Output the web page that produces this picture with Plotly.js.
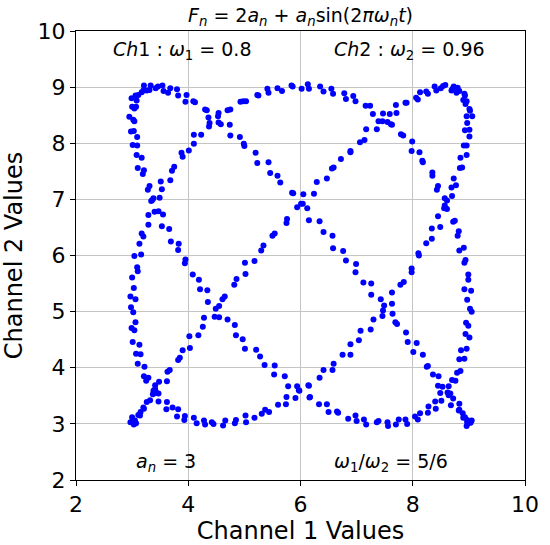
<!DOCTYPE html>
<html>
<head>
<meta charset="utf-8">
<script src="https://cdn.plot.ly/plotly-3.0.1.min.js"></script>
<style>
  html, body { margin: 0; padding: 0; background: #ffffff; }
  #chart { width: 550px; height: 545px; }
</style>
</head>
<body>
<div id="chart"></div>
<script>
// Channel 1 (x) values
const ch1Values = [
9.03,8.96,9.05,8.97,8.99,8.90,8.97,8.89,8.93,8.82,
8.83,8.83,8.68,8.72,8.62,8.67,8.53,8.45,8.46,8.36,
8.25,8.27,8.18,8.01,8.07,7.91,7.88,7.72,7.69,7.64,
7.47,7.43,7.26,7.26,7.12,6.98,6.99,6.81,6.76,6.58,
6.57,6.41,6.34,6.15,6.12,6.04,5.87,5.85,5.64,5.59,
5.46,5.43,5.23,5.20,5.00,4.99,4.92,4.75,4.74,4.58,
4.53,4.36,4.33,4.30,4.12,4.09,3.95,3.97,3.82,3.80,
3.64,3.68,3.56,3.54,3.42,3.46,3.33,3.31,3.21,3.26,
3.20,3.11,3.17,3.06,3.08,2.99,3.07,3.00,3.04,2.95,3.02,
3.04,2.98,3.03,3.09,3.01,3.09,3.08,3.17,3.10,3.21,
3.19,3.31,3.28,3.38,3.34,3.47,3.55,3.53,3.66,3.69,
3.83,3.82,3.95,3.94,4.08,4.19,4.21,4.34,4.35,4.55,
4.55,4.70,4.83,4.85,4.97,5.01,5.21,5.28,5.36,5.54,
5.53,5.72,5.78,5.94,5.97,6.16,6.17,6.33,6.47,6.50,
6.65,6.67,6.85,6.98,7.00,7.13,7.17,7.36,7.39,7.56,
7.55,7.70,7.75,7.90,7.87,8.04,8.09,8.13,8.27,8.28,
8.41,8.40,8.51,8.49,8.64,8.64,8.76,8.70,8.79,8.85,
8.83,8.92,8.86,8.96,9.01,8.94,8.99,8.95,9.05,9.02,
8.97,9.04,8.92,8.99,8.99,8.92,8.94,8.83,8.91,8.80,
8.82,8.72,8.75,8.61,8.61,8.57,8.43,8.45,8.35,8.35,
8.18,8.17,8.12,7.98,7.99,7.83,7.79,7.63,7.61,7.46,
7.47,7.29,7.24,7.16,6.98,6.94,6.81,6.78,6.58,6.55,
6.41,6.35,6.15,6.13,6.02,5.86,5.84,5.67,5.59,5.43,
5.41,5.25,5.23,5.03,4.98,4.93,4.75,4.70,4.54,4.54,
4.38,4.37,4.23,4.10,4.10,4.01,3.88,3.90,3.75,3.71,
3.68,3.51,3.53,3.49,3.36,3.40,3.29,3.29,3.17,3.20,
3.13,3.16,3.04,3.09,3.10,3.00,3.03,2.97,3.06,2.98,
3.02,3.06,2.99,3.04,3.01,3.13,3.07,3.15,3.10,3.22,
3.21,3.29,3.25,3.41,3.38,3.47,3.47,3.62,3.61,3.72,
3.82,3.80,3.94,3.93,4.10,4.15,4.28,4.30,4.42,4.45,
4.62,4.66,4.83,4.85,5.03,5.02,5.18,5.31,5.37,5.44,
5.60,5.74,5.75,5.91,5.98,6.14,6.15,6.34,6.41,6.57,
6.59,6.75,6.89,6.89,7.04,7.07,7.25,7.30,7.46,7.49,
7.63,7.63,7.78,7.84,7.98,7.98,8.11,8.10,8.24,8.34,
8.34,8.49,8.45,8.56,8.57,8.70,8.69,8.77,8.73,8.84,
8.88,8.85,8.96,8.91,8.96,9.01,8.93,9.01,8.97,9.06,
8.96,9.01,9.02,8.94,8.90,8.96,8.92,8.93,8.83,8.78,
8.80,8.69,8.73,8.71,8.58,8.50,8.54,8.42,8.39,8.24,
8.27,8.13,8.09,8.06,7.89,7.87,7.70,7.71,7.59,7.55,
7.39,7.36,7.17,7.14,7.06,6.89,6.89,6.72,6.59,6.56,
6.47,6.29,6.24,6.05,6.01,5.94,5.76,5.75,5.54,5.50,
5.34,5.30,5.18,5.01,5.02,4.86,4.82,4.65,4.61,4.49,
4.47,4.28,4.26,4.18,4.02,4.03,3.90,3.85,3.82,3.67,
3.63,3.62,3.48,3.41,3.44,3.37,3.26,3.32,3.20,3.21,
3.11,3.15,3.14,3.05,3.00,3.07,3.01,3.03,2.97
];

// Channel 2 (y) values
const ch2Values = [
3.02,2.96,3.06,3.03,3.01,3.11,3.07,3.19,3.12,3.24,
3.25,3.36,3.33,3.45,3.56,3.54,3.66,3.68,3.85,3.88,
4.02,4.03,4.23,4.28,4.44,4.46,4.63,4.78,4.81,4.96,
5.02,5.22,5.30,5.50,5.52,5.70,5.85,5.91,6.08,6.13,
6.35,6.42,6.61,6.63,6.84,6.92,7.11,7.12,7.30,7.42,
7.47,7.66,7.65,7.83,7.95,7.99,8.11,8.14,8.33,8.34,
8.48,8.46,8.59,8.60,8.73,8.75,8.74,8.86,8.85,8.96,
8.90,8.98,8.93,9.03,8.98,9.01,
9.03,8.95,9.03,8.94,8.94,8.86,8.91,8.85,8.76,8.80,
8.65,8.65,8.62,8.47,8.42,8.39,8.21,8.22,8.11,7.97,
7.96,7.79,7.74,7.56,7.52,7.45,7.24,7.17,7.02,6.97,
6.79,6.73,6.52,6.47,6.25,6.21,6.10,5.93,5.86,5.66,
5.57,5.40,5.38,5.17,5.10,4.90,4.86,4.76,4.58,4.51,
4.34,4.32,4.20,4.05,4.04,3.88,3.85,3.67,3.67,3.60,
3.47,3.48,3.35,3.35,3.21,3.22,3.20,3.09,3.15,3.05,
3.08,2.99,3.03,3.05,2.96,
3.03,2.99,3.08,3.00,3.08,3.13,3.08,3.19,3.20,3.31,
3.27,3.40,3.41,3.55,3.51,3.67,3.77,3.78,3.91,3.94,
4.15,4.16,4.31,4.34,4.54,4.60,4.75,4.80,5.00,5.05,
5.21,5.37,5.40,5.57,5.66,5.87,5.92,6.09,6.14,6.35,
6.43,6.60,6.62,6.83,6.98,7.02,7.17,7.24,7.42,7.48,
7.66,7.69,7.84,7.86,8.03,8.14,8.16,8.33,8.34,8.39,
8.53,8.52,8.67,8.67,8.75,8.84,8.79,8.89,8.88,8.97,
8.92,9.01,8.97,9.05,8.97,
9.01,9.03,8.93,8.98,8.90,8.97,8.85,8.86,8.75,8.75,
8.74,8.60,8.59,8.54,8.37,8.36,8.30,8.15,8.15,7.99,
7.87,7.83,7.76,7.58,7.51,7.34,7.32,7.18,7.03,6.99,
6.78,6.72,6.55,6.39,6.34,6.21,6.02,5.99,5.79,5.72,
5.61,5.42,5.27,5.22,5.08,4.99,4.81,4.71,4.67,4.46,
4.41,4.25,4.24,4.07,4.02,3.85,3.82,3.77,3.62,3.59,
3.54,3.40,3.39,3.26,3.29,3.26,3.13,3.14,3.07,3.11,
3.01,3.06,2.99,3.03,3.00,
2.97,3.06,3.01,3.07,3.03,3.15,3.11,3.18,3.25,3.21,
3.34,3.35,3.48,3.46,3.59,3.69,3.68,3.82,3.96,3.96,
4.07,4.23,4.23,4.42,4.49,4.66,4.68,4.86,4.92,5.11,
5.14,5.34,5.48,5.53,5.70,5.77,6.00,6.04,6.22,6.30,
6.48,6.51,6.70,6.84,6.89,7.06,7.21,7.25,7.37,7.56,
7.57,7.74,7.79,7.96,7.96,8.12,8.23,8.24,8.36,8.48,
8.48,8.61,8.58,8.70,8.77,8.75,8.88,8.85,8.93,8.90,
8.99,8.94,9.01,8.97,9.04,
8.98,9.02,8.94,9.01,8.92,8.88,8.91,8.78,8.81,8.72,
8.72,8.68,8.54,8.52,8.38,8.39,8.25,8.25,8.06,8.02,
7.86,7.84,7.72,7.57,7.55,7.37,7.31,7.10,7.09,6.92,
6.86,6.65,6.58,6.39,6.35,6.18,6.09,5.90,5.87,5.67,
5.58,5.48,5.27,5.22,5.05,4.91,4.89,4.73,4.58,4.56,
4.35,4.31,4.18,4.14,3.96,3.93,3.76,3.75,3.69,3.55,
3.53,3.39,3.42,3.29,3.27,3.16,3.21,3.15,3.06,3.12,
3.01,3.06,2.99,3.03
];

const xTicks = [2, 4, 6, 8, 10];
const yTicks = [2, 3, 4, 5, 6, 7, 8, 9, 10];

const titleText = '<i>F</i><sub><i>n</i></sub> = 2<i>a</i><sub><i>n</i></sub> + <i>a</i><sub><i>n</i></sub>sin(2<i>πω</i><sub><i>n</i></sub><i>t</i>)';
const noteTexts = [
  '<i>Ch</i>1 : <i>ω</i><sub>1</sub> = 0.8',
  '<i>Ch</i>2 : <i>ω</i><sub>2</sub> = 0.96',
  '<i>a</i><sub><i>n</i></sub> = 3',
  '<i>ω</i><sub>1</sub>/<i>ω</i><sub>2</sub> = 5/6'
];
const noteX = [3.90, 7.94, 3.61, 7.61];
const noteY = [9.66, 9.66, 2.32, 2.32];

const FONT = 'DejaVu Sans, Liberation Sans, sans-serif';

const trace = {
  x: ch1Values,
  y: ch2Values,
  type: 'scatter',
  mode: 'markers',
  marker: { color: '#0000ff', size: 6, line: { width: 0 } },
  hoverinfo: 'x+y',
  showlegend: false
};

const axisCommon = {
  showgrid: true,
  gridcolor: '#c4c4c4',
  gridwidth: 1,
  zeroline: false,
  showline: true,
  linecolor: '#000000',
  linewidth: 1,
  mirror: true,
  ticks: 'outside',
  ticklen: 5,
  tickwidth: 1,
  tickcolor: '#000000',
  tickmode: 'array',
  tickfont: { family: FONT, size: 22, color: '#000000' },
  automargin: false,
  fixedrange: true
};

const layout = {
  width: 550,
  height: 545,
  paper_bgcolor: '#ffffff',
  plot_bgcolor: '#ffffff',
  margin: { l: 76, r: 25, t: 31, b: 65, pad: 0 },
  font: { family: FONT, color: '#000000' },
  title: {
    text: titleText,
    font: { family: FONT, size: 19, color: '#000000' },
    x: 0.5,
    xref: 'paper',
    xanchor: 'center',
    y: 1 - 15.5 / 545,
    yref: 'container',
    yanchor: 'middle'
  },
  xaxis: Object.assign({}, axisCommon, {
    range: [2, 10],
    tickvals: xTicks,
    ticktext: xTicks.map(String),
    title: { text: 'Channel 1 Values', font: { family: FONT, size: 24, color: '#000000' }, standoff: 6 }
  }),
  yaxis: Object.assign({}, axisCommon, {
    range: [2, 10],
    tickvals: yTicks,
    ticktext: yTicks.map(String),
    title: { text: 'Channel 2 Values', font: { family: FONT, size: 24, color: '#000000' }, standoff: 8 }
  }),
  annotations: noteTexts.map(function (t, i) {
    return {
      text: t,
      x: noteX[i],
      y: noteY[i],
      xref: 'x',
      yref: 'y',
      xanchor: 'center',
      yanchor: 'middle',
      showarrow: false,
      font: { family: FONT, size: 19, color: '#000000' }
    };
  })
};

Plotly.newPlot('chart', [trace], layout, { displayModeBar: false, staticPlot: true });
</script>
</body>
</html>
